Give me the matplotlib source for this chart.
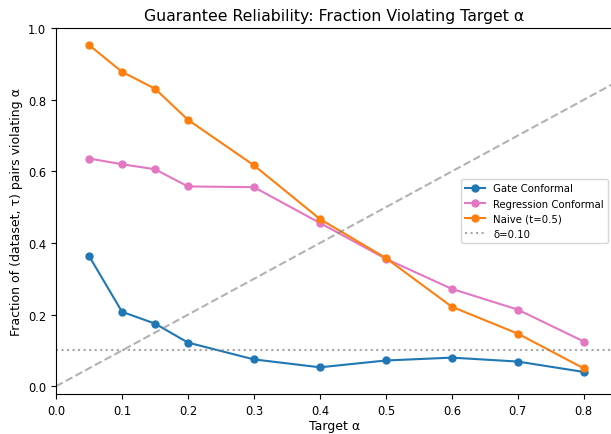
import numpy as np
import matplotlib
matplotlib.use("Agg")
from matplotlib import pyplot as plt

alphas = [0.05, 0.1, 0.15, 0.2, 0.3, 0.4, 0.5, 0.6, 0.7, 0.8]
gate = [0.364, 0.208, 0.175, 0.122, 0.075, 0.053, 0.072, 0.080, 0.069, 0.040]
regression = [0.636, 0.620, 0.606, 0.558, 0.556, 0.456, 0.356, 0.272, 0.214, 0.125]
naive = [0.953, 0.878, 0.831, 0.744, 0.617, 0.467, 0.358, 0.222, 0.147, 0.050]
delta = 0.10

fig, ax = plt.subplots(figsize=(6.11, 4.35), dpi=100)
fig.subplots_adjust(left=0.0917, right=1.003, top=0.933, bottom=0.092)

ax.plot(alphas, gate, "-o", color="#1f77b4", markersize=5, label="Gate Conformal")
ax.plot(alphas, regression, "-o", color="#e377c2", markersize=5, label="Regression Conformal")
ax.plot(alphas, naive, "-o", color="#ff7f0e", markersize=5, label="Naive (t=0.5)")
ax.axhline(delta, color="gray", linestyle=":", alpha=0.7, label="δ=0.10")
ax.plot([0, 1], [0, 1], "--", color="gray", alpha=0.6)

ax.set_xlim(0, 0.844)
ax.set_ylim(-0.0215, 1.0)
ax.tick_params(labelsize=8.3)
ax.set_xlabel("Target α", fontsize=9, labelpad=2)
ax.set_ylabel("Fraction of (dataset, τ) pairs violating α", fontsize=9)
ax.set_title("Guarantee Reliability: Fraction Violating Target α", fontsize=11.3)
ax.legend(loc="center right", fontsize=7.3)

plt.savefig("out.png")
plt.close()
